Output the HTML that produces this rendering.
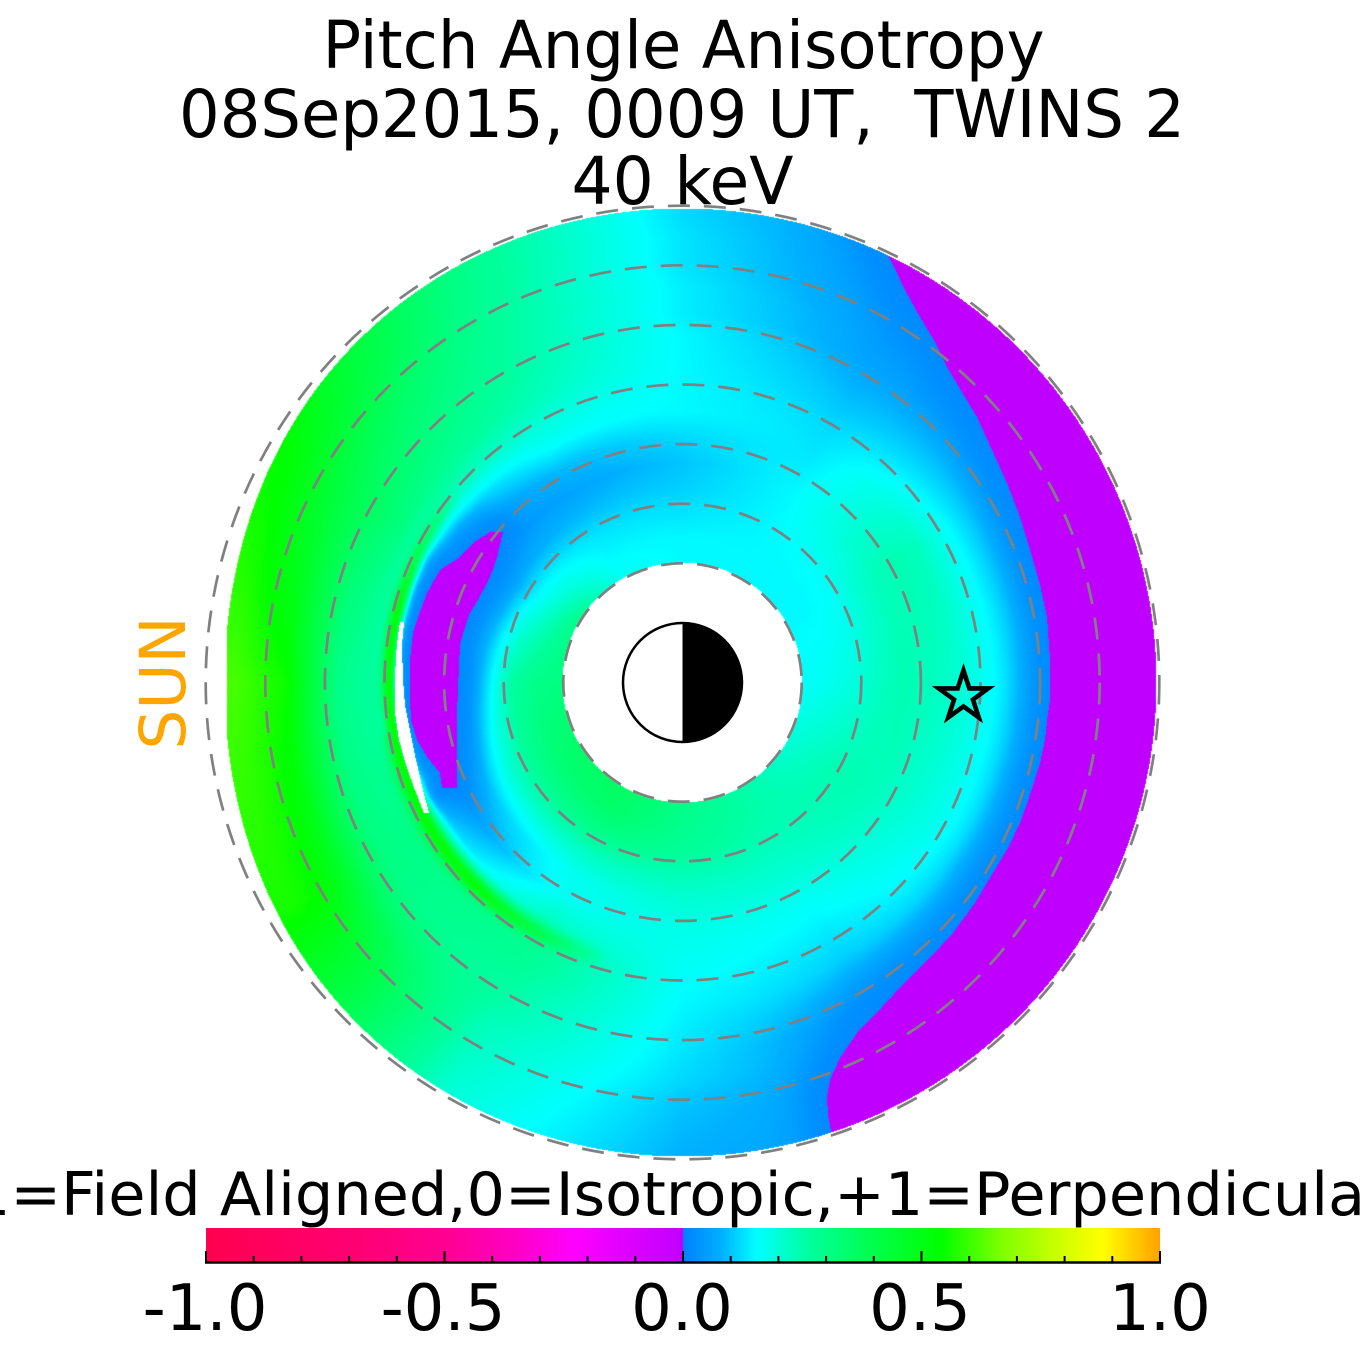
<!DOCTYPE html>
<html><head><meta charset="utf-8">
<style>
html,body{margin:0;padding:0;background:#fff;}
#wrap{position:relative;width:1365px;height:1365px;overflow:hidden;background:#fff;}
canvas,svg{position:absolute;left:0;top:0;}
text{font-family:"DejaVu Sans","Liberation Sans",sans-serif;}
</style></head><body>
<div id="wrap">
<canvas id="c" width="1365" height="1365"></canvas>
<svg width="1365" height="1365" viewBox="0 0 1365 1365">
<defs>
<linearGradient id="cb" x1="0" x2="1" y1="0" y2="0">
<stop offset="0" stop-color="#FF0050"/>
<stop offset="0.15" stop-color="#FF0070"/>
<stop offset="0.25" stop-color="#FF0090"/>
<stop offset="0.33" stop-color="#FF00C8"/>
<stop offset="0.385" stop-color="#FF00FF"/>
<stop offset="0.44" stop-color="#E000FF"/>
<stop offset="0.4995" stop-color="#C000FF"/>
<stop offset="0.5005" stop-color="#0080FF"/>
<stop offset="0.54" stop-color="#00B0FF"/>
<stop offset="0.5775" stop-color="#00FFFF"/>
<stop offset="0.63" stop-color="#00FFA0"/>
<stop offset="0.695" stop-color="#00FF50"/>
<stop offset="0.77" stop-color="#00FF00"/>
<stop offset="0.835" stop-color="#80FF00"/>
<stop offset="0.89" stop-color="#C8FF00"/>
<stop offset="0.94" stop-color="#FFFF00"/>
<stop offset="0.97" stop-color="#FFD000"/>
<stop offset="1" stop-color="#FFA000"/>
</linearGradient>
</defs>
<g fill="none" stroke="#808080" stroke-width="2.7" stroke-dasharray="22 14">
<circle cx="682.5" cy="682.5" r="119.2"/>
<circle cx="682.5" cy="682.5" r="178.8"/>
<circle cx="682.5" cy="682.5" r="238.4"/>
<circle cx="682.5" cy="682.5" r="298"/>
<circle cx="682.5" cy="682.5" r="357.6"/>
<circle cx="682.5" cy="682.5" r="417.2"/>
<circle cx="682.5" cy="682.5" r="476.8"/>
</g>
<circle cx="682.5" cy="682.5" r="59.5" fill="#fff"/>
<path d="M682.5 623 A59.5 59.5 0 0 1 682.5 742 Z" fill="#000"/>
<circle cx="682.5" cy="682.5" r="59.5" fill="none" stroke="#000" stroke-width="2.5"/>
<polygon points="963.5,670.5 969.34,688.46 988.23,688.46 972.95,699.57 978.78,717.54 963.5,706.43 948.22,717.54 954.05,699.57 938.77,688.46 957.66,688.46" fill="none" stroke="#000" stroke-width="4.6" stroke-linejoin="miter"/>
<text x="683.5" y="68" font-size="66" text-anchor="middle" textLength="722" lengthAdjust="spacingAndGlyphs" fill="#000">Pitch Angle Anisotropy</text>
<text x="682" y="137" font-size="66" text-anchor="middle" textLength="1006" lengthAdjust="spacingAndGlyphs" fill="#000" xml:space="preserve">08Sep2015, 0009 UT,  TWINS 2</text>
<text x="682.5" y="204" font-size="66" text-anchor="middle" textLength="222" lengthAdjust="spacingAndGlyphs" fill="#000">40 keV</text>
<text transform="translate(185,683) rotate(-90)" font-size="63" text-anchor="middle" fill="#FFA500">SUN</text>
<text x="-50" y="1215" font-size="60" textLength="1440" lengthAdjust="spacingAndGlyphs" fill="#000">-1=Field Aligned,0=Isotropic,+1=Perpendicular</text>
<rect x="206" y="1228" width="954" height="34" fill="url(#cb)"/>
<line x1="205" y1="1262.5" x2="1161" y2="1262.5" stroke="#000" stroke-width="2.5"/>
<path d="M206 1263V1251 M253.7 1263V1256 M301.4 1263V1256 M349.1 1263V1256 M396.8 1263V1256 M444.5 1263V1251 M492.2 1263V1256 M539.9 1263V1256 M587.6 1263V1256 M635.3 1263V1256 M683 1263V1251 M730.7 1263V1256 M778.4 1263V1256 M826.1 1263V1256 M873.8 1263V1256 M921.5 1263V1251 M969.2 1263V1256 M1016.9 1263V1256 M1064.6 1263V1256 M1112.3 1263V1256 M1160 1263V1251" stroke="#000" stroke-width="2" fill="none"/>
<g font-size="64" text-anchor="middle" fill="#000">
<text x="205" y="1330">-1.0</text>
<text x="443" y="1330">-0.5</text>
<text x="682" y="1330">0.0</text>
<text x="920" y="1330">0.5</text>
<text x="1160" y="1330">1.0</text>
</g>
</svg>
</div>
<script>
(function(){
const W=1365,H=1365,CX=682.5,CY=682.5;
const cv=document.getElementById('c'),ctx=cv.getContext('2d');
const im=ctx.createImageData(W,H),d=im.data;
const T=[
[0.16,0.17,0.19,0.22,0.24,0.23,0.21,0.18,0.15,0.11,0.06,0.04,0.04,0.04,0.04],
[0.15,0.15,0.16,0.20,0.23,0.24,0.23,0.18,0.13,0.09,0.05,0.04,0.04,0.04,0.04],
[0.15,0.15,0.15,0.15,0.15,0.14,0.13,0.12,0.10,0.08,0.06,0.05,0.04,0.03,0.03],
[0.15,0.15,0.13,0.11,0.10,0.12,0.15,0.15,0.15,0.15,0.14,0.14,0.13,0.13,0.12],
[0.17,0.15,0.13,0.09,0.06,0.09,0.16,0.20,0.24,0.26,0.27,0.28,0.29,0.30,0.31],
[0.30,0.22,0.15,0.07,0.03,0.03,0.08,0.24,0.31,0.35,0.38,0.42,0.47,0.52,0.55],
[0.31,0.30,0.26,0.14,0.04,0.03,0.06,0.27,0.27,0.30,0.42,0.55,0.58,0.61,0.62],
[0.35,0.33,0.28,0.20,0.10,0.04,0.10,0.30,0.30,0.31,0.38,0.48,0.54,0.56,0.56],
[0.36,0.35,0.30,0.22,0.17,0.17,0.22,0.28,0.28,0.26,0.25,0.23,0.22,0.21,0.20],
[0.30,0.29,0.27,0.23,0.20,0.18,0.17,0.16,0.15,0.14,0.13,0.12,0.10,0.09,0.08],
[0.25,0.25,0.24,0.22,0.20,0.17,0.15,0.13,0.11,0.07,0.04,0.04,0.04,0.04,0.04],
[0.20,0.22,0.24,0.24,0.23,0.21,0.19,0.17,0.14,0.09,0.05,0.05,0.05,0.05,0.05]];
const STOPS=[[0,0,128,255],[0.08,0,176,255],[0.155,0,255,255],[0.26,0,255,160],[0.39,0,255,80],[0.54,0,255,0],[0.67,128,255,0],[0.78,200,255,0],[0.88,255,255,0],[0.94,255,208,0],[1,255,160,0]];
function cmap(v){
  if(v<=0) return [0,128,255];
  if(v>=1) return [255,160,0];
  for(let i=1;i<STOPS.length;i++){
    if(v<=STOPS[i][0]){const a=STOPS[i-1],b=STOPS[i],f=(v-a[0])/(b[0]-a[0]);
      return [a[1]+(b[1]-a[1])*f,a[2]+(b[2]-a[2])*f,a[3]+(b[3]-a[3])*f];}
  }
  return [255,160,0];
}
function base(th,r){
  const ti=th/30;const fl=Math.floor(ti);const i0=((fl%12)+12)%12,i1=(i0+1)%12;const ft=ti-fl;
  const rr=Math.min(Math.max(r,120),470);let rj=(rr-120)/25;let j0=Math.min(Math.floor(rj),13);const fr=rj-j0;
  const a=T[i0][j0]*(1-fr)+T[i0][j0+1]*fr;
  const b=T[i1][j0]*(1-fr)+T[i1][j0+1]*fr;
  return a*(1-ft)+b*ft;
}
function segDist(px,py,ax,ay,bx,by){const vx=bx-ax,vy=by-ay;let t=((px-ax)*vx+(py-ay)*vy)/(vx*vx+vy*vy);t=t<0?0:(t>1?1:t);const ex=ax+t*vx-px,ey=ay+t*vy-py;return Math.sqrt(ex*ex+ey*ey);}
function plDist(P,px,py,closed){let m=1e9;const n=P.length;const lim=closed?n:n-1;for(let i=0;i<lim;i++){const a=P[i],b=P[(i+1)%n];const dd=segDist(px,py,a[0],a[1],b[0],b[1]);if(dd<m)m=dd;}return m;}
function inside(P,x,y){let c=false;for(let i=0,j=P.length-1;i<P.length;j=i++){const xi=P[i][0],yi=P[i][1],xj=P[j][0],yj=P[j][1];if(((yi>y)!==(yj>y))&&(x<(xj-xi)*(y-yi)/(yj-yi)+xi))c=!c;}return c;}
const RP=[[859,200],[893,265],[905,290],[920,317],[935,342],[947,367],[962,392],[977,417],[992,450],[1007,483],[1020,517],[1030,550],[1040,585],[1047,617],[1050,660],[1050,700],[1048,713],[1045,740],[1040,763],[1030,795],[1020,823],[1008,848],[993,873],[975,903],[953,933],[930,958],[907,980],[882,1007],[857,1033],[840,1058],[830,1080],[827,1097],[828,1115],[833,1140],[840,1200]];
const RPpoly=RP.concat([[1400,1200],[1400,200]]);
const C=[[490,532],[503,532],[500,545],[497,558],[493,570],[487,583],[478,600],[470,613],[464,630],[460,645],[459,665],[458,690],[457,715],[457,740],[457,788],[442,788],[440,773],[427,757],[417,740],[411,720],[410,700],[410,660],[413,633],[418,617],[427,593],[440,570],[460,557],[473,543]];
const G=[[400,622],[404,622],[402,645],[403,680],[405,705],[410,730],[416,760],[423,790],[429,813],[424,813],[415,790],[406,765],[399,740],[395,713],[395,680],[396,655],[398,635]];
for(let y=0;y<H;y++){
  const py=y+0.5,dy=CY-py;
  for(let x=0;x<W;x++){
    const px=x+0.5,dx=px-CX;const r=Math.sqrt(dx*dx+dy*dy);
    if(r<120||r>474||px<227) continue;
    let th=Math.atan2(dy,dx)*57.29578;if(th<0)th+=360;
    const q0=(th-180)/35;const rout=474-16*Math.exp(-q0*q0);
    if(r>rout) continue;
    const idx=(y*W+x)*4;
    if(px>385&&px<440&&py>615&&py<820&&inside(G,px,py)) continue;
    let purple=false;
    if(px>800&&inside(RPpoly,px,py)) purple=true;
    else if(px>400&&px<510&&py>525&&py<795&&inside(C,px,py)) purple=true;
    if(purple){d[idx]=192;d[idx+1]=0;d[idx+2]=255;d[idx+3]=255;continue;}
    let v=base(th,r);
    if(px>760){const dd=plDist(RP,px,py,false);const w=Math.exp(-(dd*dd)/(32*32));v=v*(1-w)+0.02*w;}
    if(px>340&&px<580&&py>460&&py<870){const dd=plDist(C,px,py,true);const w=Math.exp(-(dd*dd)/(20*20));v=v*(1-w)+0.02*w;}
    if(th>140&&th<255){
      const A=th<165?(th-140)/25:(th<225?1:(255-th)/30);
      const rc=294-Math.max(0,th-180)*0.1;const s=th<190?7:9;const q=(r-rc)/s;
      const w=A*Math.exp(-q*q);v=v*(1-w)+0.52*w;
    }
    const c=cmap(v);
    d[idx]=c[0];d[idx+1]=c[1];d[idx+2]=c[2];d[idx+3]=255;
  }
}
ctx.putImageData(im,0,0);
})();
</script>
</body></html>
